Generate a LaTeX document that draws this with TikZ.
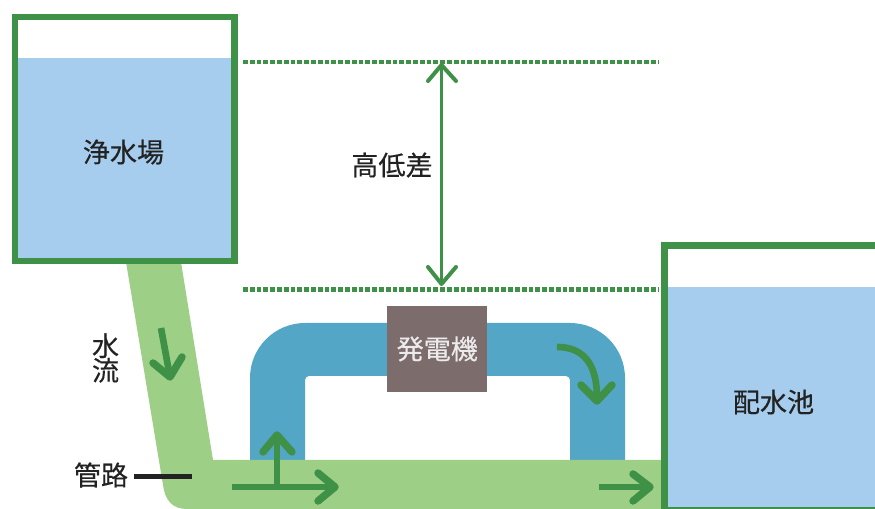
\documentclass[tikz,border=0pt]{standalone}
\usepackage{fontspec}
\newfontfamily\cjk[FakeBold=0.35]{Noto Sans CJK JP}
\definecolor{tankgreen}{HTML}{3F9148}
\definecolor{water}{HTML}{A6CCEE}
\definecolor{pipegreen}{HTML}{9DCF86}
\definecolor{pipeblue}{HTML}{53A6C6}
\definecolor{genbrown}{HTML}{7D6C6C}
\definecolor{ink}{HTML}{222222}
\tikzset{
  tank/.style={draw=tankgreen,line width=5.2pt,miter limit=10},
  flow/.style={draw=tankgreen,line width=5pt,line cap=butt},
  head/.style={draw=tankgreen,line width=5.6pt,line cap=round,line join=round},
  thin head/.style={draw=tankgreen,line width=3pt,line cap=round,line join=round},
  level/.style={draw=tankgreen,line width=3.2pt,dash pattern=on 3.6pt off 1.5pt},
  label/.style={font=\cjk\fontsize{20.3pt}{22pt}\selectfont,text=ink,inner sep=0pt,align=center},
}
\begin{document}
\begin{tikzpicture}[x=0.75pt,y=-0.75pt]
\useasboundingbox (0,0) rectangle (875,509);
% pipes
\fill[pipeblue] (250,462) -- (250,378) arc[start angle=180,end angle=270,radius=55] -- (570,323) arc[start angle=270,end angle=360,radius=55] -- (625,462) -- (570,462) -- (570,380) arc[start angle=0,end angle=-90,radius=4] -- (309,376) arc[start angle=270,end angle=180,radius=4] -- (305,462) -- cycle;
\fill[pipegreen] (126,262) -- (181,262) -- (213,460) -- (664,460) -- (664,509) -- (187,509) .. controls (172,509) and (165,500) .. (163,485) -- cycle;
% tanks
\fill[water] (15,58) rectangle (234,261);
\draw[tank] (15,17) rectangle (234.5,261);
\fill[water] (665,287) rectangle (875,509);
\draw[tank] (875,245.5) -- (664.5,245.5) -- (664.5,509);
\draw[draw=tankgreen,line width=1.6pt] (664.5,508.3) -- (875,508.3);
% levels
\coordinate (la) at (243,62); \coordinate (lb) at (658,62);
\coordinate (lc) at (243,289.5); \coordinate (ld) at (658,289.5);
\draw[level] (la) -- (lb);
\draw[level] (lc) -- (ld);
% height arrow
\coordinate (ht) at (441.5,65); \coordinate (hb) at (441.5,284);
\draw[draw=tankgreen,line width=2.8pt] (ht) -- (hb);
\draw[thin head] (428,81) -- (ht) -- (456,81);
\draw[thin head] (428,267) -- (hb) -- (456,267);
% generator
\node[fill=genbrown,minimum width=75pt,minimum height=64pt,inner sep=0pt,anchor=north west,text=white!92!black,font=\cjk\fontsize{20.3pt}{22pt}\selectfont] (gen) at (387,306) {発電機};
% texts
\node[label] (t1) at (123.5,152) {浄水場};
\node[label] (t2) at (392,165) {高低差};
\node[label] (t3) at (773.5,402) {配水池};
\node[label] (t4) at (105.5,358) {水\\[-3.5pt]流};
\node[label] (t5) at (101,475) {管路};
\coordinate (p1) at (134,476.5); \coordinate (p2) at (192,476.5);
\draw[ink,line width=3.2pt] (p1) -- (p2);
% flow arrows
\coordinate (a1) at (161,328); \coordinate (a2) at (170,377);
\draw[flow] (a1) -- (a2);
\draw[head] (153,363) -- (a2) -- (182,357);
\coordinate (b1) at (232,487); \coordinate (b2) at (335,487);
\draw[flow] (b1) -- (b2);
\draw[head] (318,473) -- (b2) -- (318,501);
\coordinate (c1) at (277,486); \coordinate (c2) at (277,435);
\draw[flow] (c1) -- (c2);
\draw[head] (263,452) -- (c2) -- (292,452);
\coordinate (d1) at (599,487); \coordinate (d2) at (650,487);
\draw[flow] (d1) -- (d2);
\draw[head] (633,474) -- (d2) -- (633,501);
\coordinate (e1) at (557,347); \coordinate (e2) at (597,401);
\draw[flow] (e1) .. controls (582,347) and (597,362) .. (597,398);
\draw[head] (581,385) -- (e2) -- (612,385);
\end{tikzpicture}
\end{document}
